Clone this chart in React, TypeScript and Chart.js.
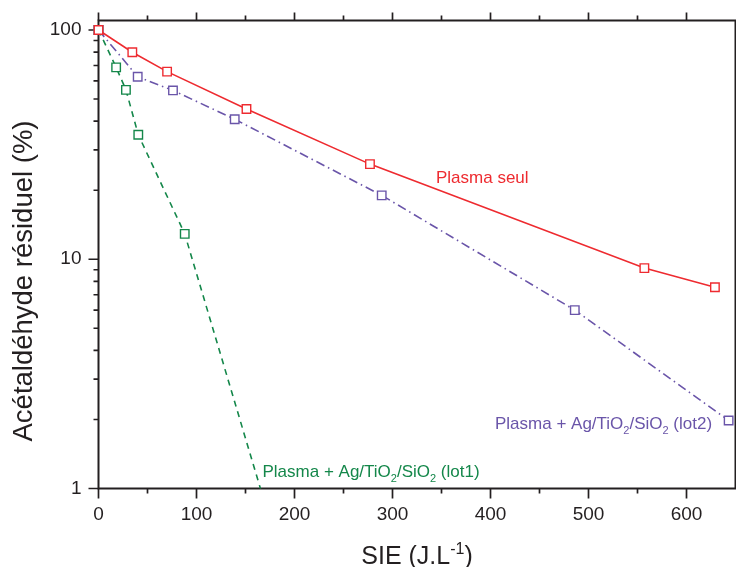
import React, { useEffect, useRef } from 'react';
import { Chart, registerables } from 'chart.js';

Chart.register(...registerables);

// ---- Data ----
const xRed = [0, 34.5, 70, 151, 277, 557, 629];
const yRed = [100, 80, 65.8, 45.2, 26.0, 9.15, 7.55];

const xPurple = [0, 40, 76, 139, 289, 486, 643];
const yPurple = [100, 62.5, 54.5, 40.8, 19.0, 6.0, 1.98];

const xGreen = [0, 18, 28, 40.6, 88, 190];
const yGreen = [100, 68.7, 54.8, 34.9, 12.9, 0.44];

const xTickValues = [0, 50, 100, 150, 200, 250, 300, 350, 400, 450, 500, 550, 600, 650];
const xTickLabels = [0, 100, 200, 300, 400, 500, 600];
const yTickValues = [1, 2, 3, 4, 5, 6, 7, 8, 9, 10, 20, 30, 40, 50, 60, 70, 80, 90, 100];
const yTickLabels = [1, 10, 100];

const seriesNames = ['Plasma seul', 'Plasma + Ag/TiO2/SiO2 (lot2)', 'Plasma + Ag/TiO2/SiO2 (lot1)'];

const RED = '#ee2b30';
const PURPLE = '#6a55a9';
const GREEN = '#14874a';
const AXIS = '#231f20';
const FONT = '"Liberation Sans", Arial, Helvetica, sans-serif';

type Seg = { t: string; sub?: boolean; sup?: boolean };

function drawRich(ctx: CanvasRenderingContext2D, segs: Seg[], x: number, y: number, size: number, align: 'left' | 'center') {
  const small = Math.round(size * 0.62);
  const widths = segs.map((s) => {
    ctx.font = `${s.sub || s.sup ? small : size}px ${FONT}`;
    return ctx.measureText(s.t).width;
  });
  const total = widths.reduce((a, b) => a + b, 0);
  let cx = align === 'center' ? x - total / 2 : x;
  ctx.textAlign = 'left';
  ctx.textBaseline = 'alphabetic';
  segs.forEach((s, i) => {
    ctx.font = `${s.sub || s.sup ? small : size}px ${FONT}`;
    const dy = s.sub ? size * 0.3 : s.sup ? -size * 0.42 : 0;
    ctx.fillText(s.t, cx, y + dy);
    cx += widths[i];
  });
}

export default function App() {
  const ref = useRef<HTMLCanvasElement>(null);

  useEffect(() => {
    const canvas = ref.current;
    if (!canvas) return;
    const pts = (xs: number[], ys: number[]) => xs.map((x, i) => ({ x, y: ys[i] }));

    const framePlugin = {
      id: 'frame',
      beforeDatasetsDraw(chart: any) {
        const { ctx, chartArea: a, scales } = chart;
        const sx = scales.x;
        const sy = scales.y;
        ctx.save();
        ctx.strokeStyle = AXIS;
        ctx.lineWidth = 1.7;
        ctx.beginPath();
        xTickValues.forEach((v) => {
          const px = sx.getPixelForValue(v);
          const major = v % 100 === 0;
          if (v < 650) {
            ctx.moveTo(px, a.bottom);
            ctx.lineTo(px, a.bottom + (major ? 10 : 5));
            ctx.moveTo(px, a.top);
            ctx.lineTo(px, a.top - (major ? 8 : 5));
          }
        });
        yTickValues.forEach((v) => {
          const py = sy.getPixelForValue(v);
          const major = yTickLabels.includes(v);
          ctx.moveTo(a.left, py);
          ctx.lineTo(a.left - (major ? 10 : 5), py);
        });
        ctx.stroke();
        ctx.lineWidth = 2;
        ctx.strokeRect(a.left, a.top, a.right - a.left, a.bottom - a.top);
        ctx.restore();
      },
      afterDraw(chart: any) {
        const { ctx, chartArea: a } = chart;
        ctx.save();
        ctx.fillStyle = RED;
        drawRich(ctx, [{ t: seriesNames[0] }], 436, 183, 17, 'left');
        ctx.fillStyle = PURPLE;
        drawRich(
          ctx,
          [{ t: 'Plasma + Ag/TiO' }, { t: '2', sub: true }, { t: '/SiO' }, { t: '2', sub: true }, { t: ' (lot2)' }],
          495,
          429,
          17,
          'left'
        );
        ctx.fillStyle = GREEN;
        drawRich(
          ctx,
          [{ t: 'Plasma + Ag/TiO' }, { t: '2', sub: true }, { t: '/SiO' }, { t: '2', sub: true }, { t: ' (lot1)' }],
          262.5,
          476.5,
          17,
          'left'
        );
        ctx.fillStyle = AXIS;
        drawRich(
          ctx,
          [{ t: 'SIE (J.L' }, { t: '-1', sup: true }, { t: ')' }],
          (a.left + a.right) / 2,
          564,
          25,
          'center'
        );
        ctx.translate(32, 281);
        ctx.rotate(-Math.PI / 2);
        drawRich(ctx, [{ t: 'Acétaldéhyde résiduel (%)' }], 0, 0, 27.5, 'center');
        ctx.restore();
      },
    };

    const common = {
      pointStyle: 'rect',
      pointRadius: 6,
      pointBorderWidth: 1.4,
      pointBackgroundColor: '#ffffff',
      borderWidth: 1.6,
      tension: 0,
      clip: { left: 12, top: 12, right: 12, bottom: 0 },
    };

    const chart = new Chart(canvas, {
      type: 'line',
      data: {
        datasets: [
          {
            ...common,
            label: seriesNames[0],
            data: pts(xRed, yRed),
            borderColor: RED,
            pointBorderColor: RED,
          },
          {
            ...common,
            label: seriesNames[1],
            data: pts(xPurple, yPurple),
            borderColor: PURPLE,
            pointBorderColor: PURPLE,
            borderDash: [9, 4, 1.5, 4],
          },
          {
            ...common,
            label: seriesNames[2],
            data: pts(xGreen, yGreen),
            borderColor: GREEN,
            pointBorderColor: GREEN,
            borderDash: [6, 5],
          },
        ] as any,
      },
      options: {
        responsive: false,
        devicePixelRatio: 1,
        animation: false,
        events: [],
        layout: { autoPadding: false, padding: { top: 20.5, right: 0.5, left: 0, bottom: 0 } } as any,
        plugins: { legend: { display: false }, tooltip: { enabled: false } },
        scales: {
          x: {
            type: 'linear',
            min: 0,
            max: 650,
            grid: { display: false, drawTicks: false },
            border: { display: false },
            afterBuildTicks: (s: any) => {
              s.ticks = xTickValues.map((v) => ({ value: v }));
            },
            afterFit: (s: any) => {
              s.height = 78.5;
              s.paddingLeft = 0;
              s.paddingRight = 0;
              s.paddingTop = 0;
              s.paddingBottom = 0;
            },
            ticks: {
              autoSkip: false,
              maxRotation: 0,
              padding: 15,
              color: AXIS,
              font: { family: FONT, size: 19 },
              callback: (v: any) => (xTickLabels.includes(Number(v)) ? String(v) : ''),
            },
          },
          y: {
            type: 'logarithmic',
            min: 1,
            max: 110,
            grid: { display: false, drawTicks: false },
            border: { display: false },
            afterBuildTicks: (s: any) => {
              s.ticks = yTickValues.map((v) => ({ value: v }));
            },
            afterFit: (s: any) => {
              s.width = 98.5;
              s.paddingLeft = 0;
              s.paddingRight = 0;
              s.paddingTop = 0;
              s.paddingBottom = 0;
            },
            ticks: {
              autoSkip: false,
              padding: 17,
              color: AXIS,
              font: { family: FONT, size: 19 },
              callback: (v: any) => (yTickLabels.includes(Number(v)) ? String(v) : ''),
            },
          },
        },
      } as any,
      plugins: [framePlugin],
    });
    return () => chart.destroy();
  }, []);

  return (
    <div style={{ position: 'absolute', left: 0, top: 0, width: 736, height: 567, background: '#fff' }}>
      <canvas ref={ref} width={736} height={567} style={{ display: 'block' }} />
    </div>
  );
}
